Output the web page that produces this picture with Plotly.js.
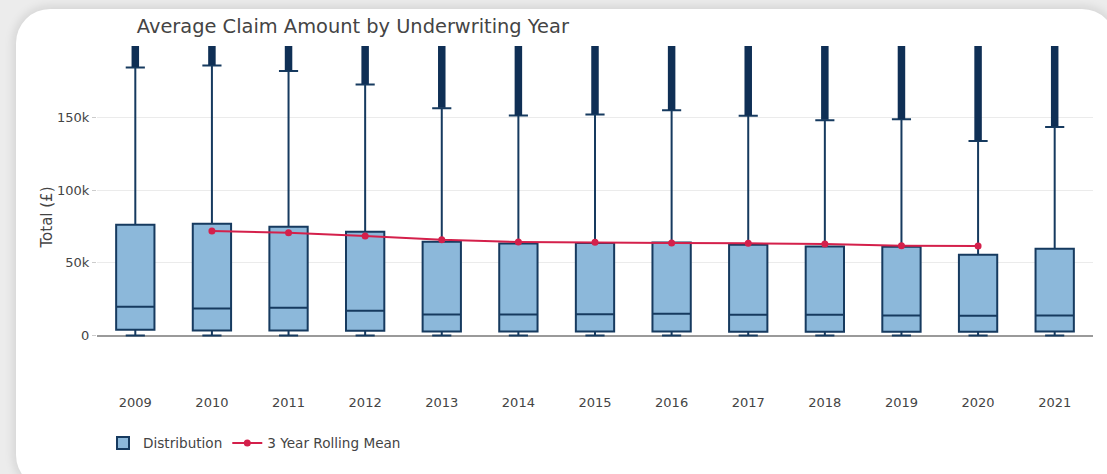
<!DOCTYPE html>
<html>
<head>
<meta charset="utf-8">
<script src="https://cdn.plot.ly/plotly-3.0.1.min.js"></script>
<style>
  html, body { margin: 0; padding: 0; width: 1107px; height: 474px; overflow: hidden; background: #ececec; }
  #card { position: absolute; left: 16px; top: 9px; width: 1100px; height: 480px; background: #ffffff; border-radius: 34px; box-shadow: 0 0 10px 3px rgba(0,0,0,0.10); }
  #chart { position: absolute; left: 0; top: 0; width: 1107px; height: 474px; }
</style>
</head>
<body>
<div id="card"></div>
<div id="chart"></div>
<script>
// Underwriting years
const years = ['2009','2010','2011','2012','2013','2014','2015','2016','2017','2018','2019','2020','2021'];
// Box statistics (£)
const q1Values     = [4100, 3500, 3500, 3300, 2800, 2800, 2900, 2900, 2700, 2700, 2600, 2600, 2800];
const medianValues = [19900, 18600, 19200, 17100, 14500, 14500, 14700, 15000, 14300, 14400, 13800, 13700, 13800];
const q3Values     = [76200, 76800, 74800, 71300, 64500, 63300, 63600, 63900, 62500, 61300, 61000, 55600, 59700];
const lowerFence   = [0, 0, 0, 0, 0, 0, 0, 0, 0, 0, 0, 0, 0];
const upperFence   = [184300, 185600, 181800, 172600, 156300, 151200, 152000, 154800, 151000, 148000, 148600, 133800, 143400];
// Outlier spread (lowest and highest outlier per year, £)
const outlierLow   = [184600, 185900, 182100, 172900, 156600, 151500, 152300, 155100, 151300, 148300, 148900, 134100, 143700];
const outlierHigh  = [950000, 920000, 880000, 900000, 870000, 940000, 910000, 890000, 930000, 880000, 900000, 860000, 870000];
// 3 year rolling mean of average claim (£)
const rollingYears = ['2010','2011','2012','2013','2014','2015','2016','2017','2018','2019','2020'];
const rollingMean  = [71900, 70700, 68500, 65800, 64300, 64200, 63600, 63400, 63000, 61800, 61600];

const navy = '#163a5f';
const outX = [], outY = [];
years.forEach((y, i) => { outX.push(y, y, null); outY.push(outlierLow[i], outlierHigh[i], null); });

const traces = [
  {
    type: 'scatter', mode: 'lines', x: outX, y: outY,
    line: { color: '#0f2f55', width: 7.5 }, showlegend: false, hoverinfo: 'skip'
  },
  {
    type: 'box', name: 'Distribution', x: years,
    q1: q1Values, median: medianValues, q3: q3Values,
    lowerfence: lowerFence, upperfence: upperFence,
    boxpoints: false, whiskerwidth: 0.5, width: 0.5,
    line: { color: navy, width: 2 }, fillcolor: '#8cb8da'
  },
  {
    type: 'scatter', mode: 'lines+markers', name: '3 Year Rolling Mean',
    x: rollingYears, y: rollingMean,
    line: { color: '#d4204b', width: 2 }, marker: { color: '#d4204b', size: 7 }
  }
];

const layout = {
  width: 1107, height: 474,
  paper_bgcolor: 'rgba(0,0,0,0)', plot_bgcolor: 'rgba(0,0,0,0)',
  margin: { l: 97, r: 14, t: 46, b: 86 },
  font: { family: 'DejaVu Sans, Verdana, sans-serif', size: 13, color: '#444' },
  title: {
    text: 'Average Claim Amount by Underwriting Year',
    font: { family: 'DejaVu Sans, Verdana, sans-serif', size: 19.4, color: '#444' },
    xref: 'paper', x: 0.04, xanchor: 'left',
    yref: 'container', y: 0.945, yanchor: 'middle'
  },
  xaxis: {
    type: 'category', categoryorder: 'array', categoryarray: years,
    range: [-0.5, 12.5],
    showgrid: false, zeroline: false, showline: false,
    ticks: 'outside', ticklen: 2, tickcolor: 'rgba(0,0,0,0)',
    tickfont: { size: 13, color: '#444' }
  },
  yaxis: {
    range: [-36000, 199000],
    tickvals: [0, 50000, 100000, 150000], ticktext: ['0', '50k', '100k', '150k'],
    showgrid: true, gridcolor: '#ebebeb', gridwidth: 1,
    zeroline: true, zerolinecolor: '#9a9a9a', zerolinewidth: 2,
    ticks: 'outside', ticklen: 4, tickcolor: '#cccccc',
    tickfont: { size: 13, color: '#444' },
    title: { text: 'Total (£)', font: { size: 15, color: '#444' }, standoff: 0 }
  },
  legend: {
    orientation: 'h', x: 0.006, xanchor: 'left', y: -0.161, yanchor: 'middle',
    font: { size: 13.6, color: '#444' }, bgcolor: 'rgba(0,0,0,0)'
  },
  showlegend: true
};

Plotly.newPlot('chart', traces, layout, { displayModeBar: false, staticPlot: true });
</script>
</body>
</html>
